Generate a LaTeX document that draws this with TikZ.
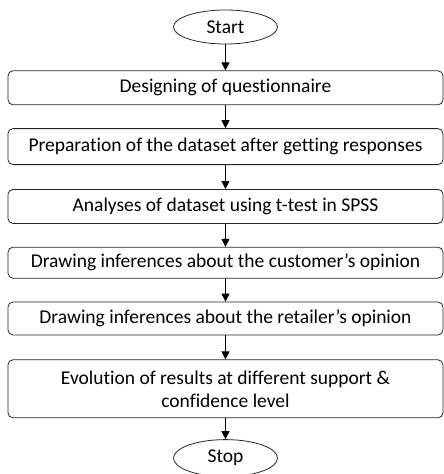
\documentclass[tikz,border=0pt]{standalone}
\usepackage{fontspec}
\setmainfont{Carlito}[Ligatures=NoCommon]
\usepackage{tikz}
\usetikzlibrary{arrows.meta,positioning,shapes.geometric}

\begin{document}
\begin{tikzpicture}[x=1pt, y=-1pt,
        stepbox/.style={draw=black!85, line width=0.8pt, rounded corners=5pt, minimum width=435pt,
          minimum height=34pt, inner sep=2pt, align=center, font=\fontsize{19.5}{23}\selectfont},
        term/.style={draw=black!85, line width=0.8pt, ellipse, minimum width=104pt, minimum height=34pt,
          inner sep=0pt, font=\fontsize{19.5}{23}\selectfont},
        flow/.style={-{Triangle[length=8pt,width=8pt]}, black, line width=0.8pt}
      ]
      \useasboundingbox (0,0) rectangle (444,474);
      \node[term] (start) at (225.5,27) {Start};
      \node[stepbox, below=26pt of start] (design) {Designing of questionnaire};
      \node[stepbox, minimum height=36pt, below=23pt of design] (prep)
        {Preparation of the dataset after getting responses};
      \node[stepbox, below=24pt of prep] (ttest) {Analyses of dataset using t-test in SPSS};
      \node[stepbox, minimum height=31pt, below=23pt of ttest] (cust)
        {Drawing inferences about the customer’s opinion};
      \node[stepbox, minimum height=33pt, below=23pt of cust] (retail)
        {Drawing inferences about the retailer’s opinion};
      \node[stepbox, minimum height=58pt, below=24pt of retail] (evol)
        {Evolution of results at different support \&\\ confidence level};
      \node[term, minimum height=37pt, below=21pt of evol] (stop) {Stop};

      \draw[flow] (start) -- (design);
      \draw[flow] (design) -- (prep);
      \draw[flow] (prep) -- (ttest);
      \draw[flow] (ttest) -- (cust);
      \draw[flow] (cust) -- (retail);
      \draw[flow] (retail) -- (evol);
      \draw[flow] (evol) -- (stop);
    \end{tikzpicture}
\end{document}
